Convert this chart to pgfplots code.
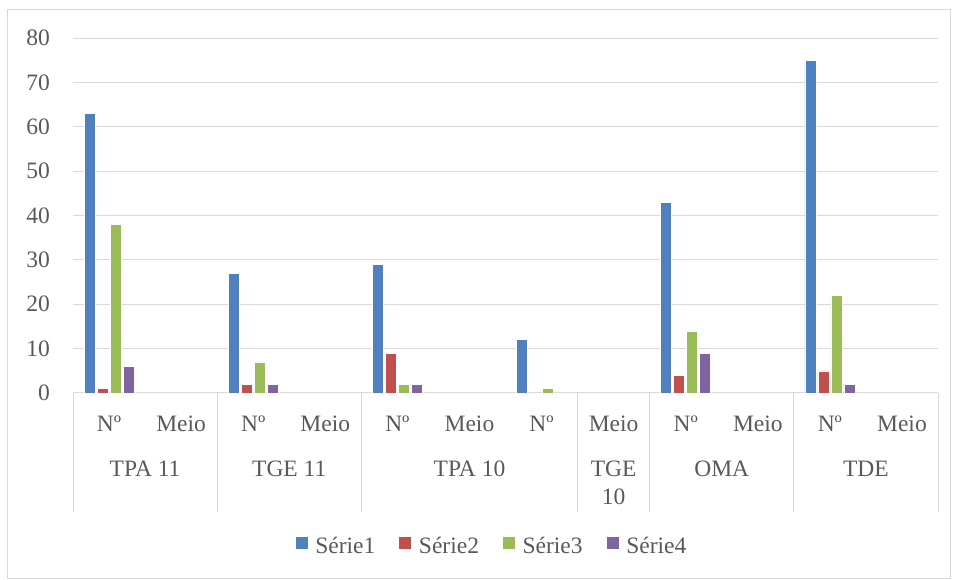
\documentclass[border=0pt]{standalone}
\usepackage{fontspec}
\setmainfont{Liberation Serif}
\usepackage{pgfplots}
\pgfplotsset{compat=1.18}
\definecolor{sa}{HTML}{4F81BD}
\definecolor{sb}{HTML}{C0504D}
\definecolor{sc}{HTML}{9BBB59}
\definecolor{sd}{HTML}{8064A2}
\definecolor{gridc}{HTML}{D9D9D9}
\definecolor{textc}{HTML}{595959}
\newcommand\lf{\fontsize{23.5}{28}\selectfont}
\begin{document}
\lf
\begin{tikzpicture}[x=1pt,y=1pt]
\path[use as bounding box] (0,0) rectangle (955,580);
\draw[gridc, line width=1pt] (7,1) rectangle (950,570);
\begin{axis}[
  at={(73pt,187pt)}, anchor=south west,
  scale only axis, width=865pt, height=355pt,
  xmin=-0.5, xmax=11.5, ymin=0, ymax=80,
  ytick={0,10,...,80},
  xtick={0,...,11},
  xticklabels={Nº,Meio,Nº,Meio,Nº,Meio,Nº,Meio,Nº,Meio,Nº,Meio},
  axis lines*=left,
  y axis line style={draw=none},
  x axis line style={draw=gridc, line width=1pt},
  ymajorgrids, grid style={draw=gridc, line width=1pt},
  major tick length=0pt, tick style={draw=none},
  /pgf/number format/assume math mode=true,
  tick label style={font=\lf, text=textc},
  yticklabel style={xshift=-15pt},
  xticklabel style={anchor=base, yshift=-39pt},
  ybar, bar width=11pt, ybar=2pt,
  every axis plot/.append style={draw=white, line width=0.6pt},
  clip=false,
  legend columns=4,
  legend style={at={(0.4717,-0.4338)}, anchor=center, draw=none, fill=none,
    font=\lf, text=textc,
    /tikz/every odd column/.append style={column sep=5pt}},
  legend image code/.code={\path (-21pt,0pt); \fill[#1] (0pt,-2pt) rectangle (13pt,11pt);},
]
\addplot[fill=sa] coordinates {(0,63) (2,27) (4,29) (6,12) (8,43) (10,75)};
\addplot[fill=sb] coordinates {(0,1) (2,2) (4,9) (8,4) (10,5)};
\addplot[fill=sc] coordinates {(0,38) (2,7) (4,2) (6,1) (8,14) (10,22)};
\addplot[fill=sd] coordinates {(0,6) (2,2) (4,2) (8,9) (10,2)};
\legend{Série1,Série2,Série3,Série4}
\draw[gridc, line width=1pt] (axis cs:-0.5,0) -- ([yshift=-119pt]axis cs:-0.5,0);
\draw[gridc, line width=1pt] (axis cs:1.5,0) -- ([yshift=-119pt]axis cs:1.5,0);
\draw[gridc, line width=1pt] (axis cs:3.5,0) -- ([yshift=-119pt]axis cs:3.5,0);
\draw[gridc, line width=1pt] (axis cs:6.5,0) -- ([yshift=-119pt]axis cs:6.5,0);
\draw[gridc, line width=1pt] (axis cs:7.5,0) -- ([yshift=-119pt]axis cs:7.5,0);
\draw[gridc, line width=1pt] (axis cs:9.5,0) -- ([yshift=-119pt]axis cs:9.5,0);
\draw[gridc, line width=1pt] (axis cs:11.5,0) -- ([yshift=-119pt]axis cs:11.5,0);
\node[anchor=base, text=textc, font=\lf] at ([yshift=-84pt]axis cs:0.5,0) {TPA 11};
\node[anchor=base, text=textc, font=\lf] at ([yshift=-84pt]axis cs:2.5,0) {TGE 11};
\node[anchor=base, text=textc, font=\lf] at ([yshift=-84pt]axis cs:5,0) {TPA 10};
\node[anchor=base, text=textc, font=\lf] at ([yshift=-84pt]axis cs:7,0) {TGE};
\node[anchor=base, text=textc, font=\lf] at ([yshift=-112pt]axis cs:7,0) {10};
\node[anchor=base, text=textc, font=\lf] at ([yshift=-84pt]axis cs:8.5,0) {OMA};
\node[anchor=base, text=textc, font=\lf] at ([yshift=-84pt]axis cs:10.5,0) {TDE};
\end{axis}
\end{tikzpicture}
\end{document}
